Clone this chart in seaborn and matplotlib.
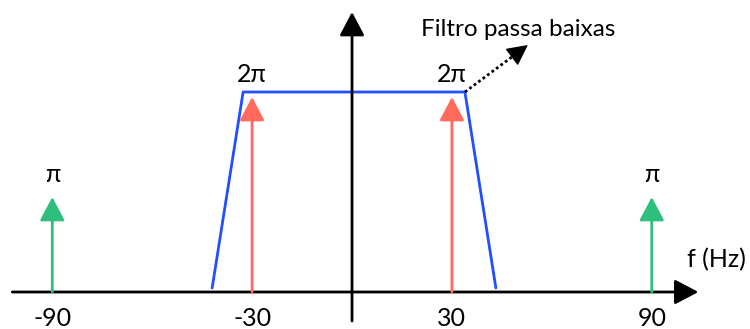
import matplotlib
matplotlib.use("Agg")
import matplotlib.pyplot as plt
import seaborn as sns
import pandas as pd

sns.set_theme(style="white")
plt.rcParams['font.family'] = ['Lato', 'DejaVu Sans']

# Data
freqs = [-90, -30, 30, 90]
amps = [1, 2, 2, 1]              # in units of pi
amp_labels = ["π", "2π", "2π", "π"]
impulse_colors = ["#2fbf7d", "#ff6a5c", "#ff6a5c", "#2fbf7d"]
tick_values = [-90, -30, 30, 90]
tick_labels = ["-90", "-30", "30", "90"]
filter_x = [-42, -32.7, 33.9, 43.2]
filter_y = [0.04, 2.0, 2.0, 0.04]
filter_label = "Filtro passa baixas"
axis_label = "f (Hz)"

FS = 18
head = "-|>,head_length=0.72,head_width=0.38"

fig = plt.figure(figsize=(7.5, 3.29), dpi=100)
ax = fig.add_axes([0, 0, 1, 1])
ax.set_xlim(-105.7, 119.5)
ax.set_ylim(-0.37, 2.92)
ax.axis("off")

# filter trapezoid
df = pd.DataFrame({"f": filter_x, "H": filter_y})
sns.lineplot(data=df, x="f", y="H", sort=False, color="#1f4fff", lw=2, ax=ax)

# axes arrows
ax.annotate("", xy=(104, 0), xytext=(-102, 0),
            arrowprops=dict(arrowstyle=head, mutation_scale=20, color="black", lw=2,
                            shrinkA=0, shrinkB=0))
ax.annotate("", xy=(0, 2.8), xytext=(0, -0.29),
            arrowprops=dict(arrowstyle=head, mutation_scale=20, color="black", lw=2,
                            shrinkA=0, shrinkB=0))

# impulses
for f, a, lab, c in zip(freqs, amps, amp_labels, impulse_colors):
    ax.annotate("", xy=(f, a - 0.05), xytext=(f, 0),
                arrowprops=dict(arrowstyle=head, mutation_scale=20, color=c, lw=2,
                                shrinkA=0, shrinkB=0))
    ax.text(f, a + 0.17, lab, ha="center", va="center", fontsize=FS, color="black")

# tick labels
for v, t in zip(tick_values, tick_labels):
    ax.text(v, -0.26, t, ha="center", va="center", fontsize=FS, color="black")

ax.text(109.3, 0.32, axis_label, ha="center", va="center", fontsize=FS, color="black")

# filter annotation: dotted line with solid head
x0, y0 = filter_x[2], filter_y[2]
x1, y1 = 52.8, 2.47
fr = 0.78
xm, ym = x0 + fr * (x1 - x0), y0 + fr * (y1 - y0)
ax.plot([x0, xm], [y0, ym], color="black", lw=2, ls=(0, (1, 1)))
ax.annotate("", xy=(x1, y1), xytext=(xm, ym),
            arrowprops=dict(arrowstyle="-|>,head_length=0.65,head_width=0.33",
                            mutation_scale=20, color="black", lw=1,
                            shrinkA=0, shrinkB=0))
ax.text(50, 2.62, filter_label, ha="center", va="center", fontsize=17.5, color="black")

fig.savefig("out.png", dpi=100)
